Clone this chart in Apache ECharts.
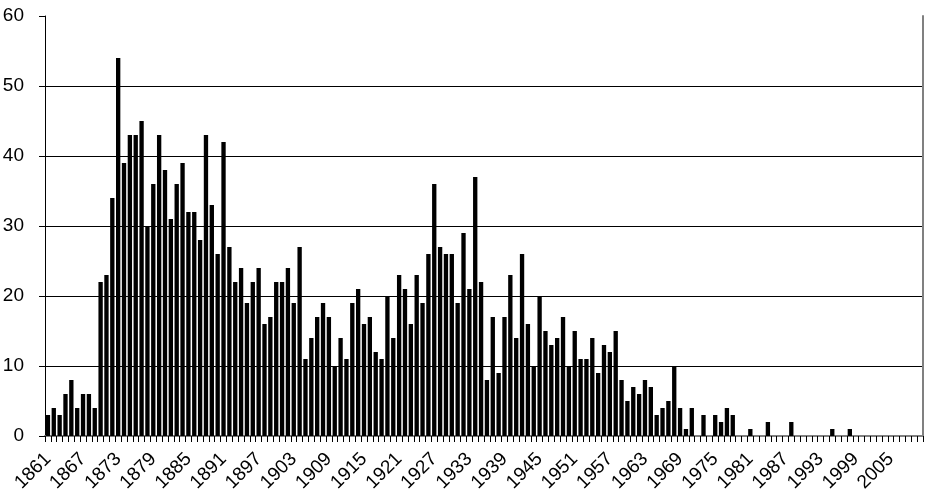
<!DOCTYPE html>
<html><head><meta charset="utf-8">
<script src="https://cdn.jsdelivr.net/npm/echarts@6/dist/echarts.min.js"></script>
<style>html,body{margin:0;padding:0;background:#fff}#c{width:934px;height:502px}</style>
</head><body><div id="c"></div>
<script>
const years = [
'1861','1862','1863','1864','1865','1866','1867','1868','1869','1870',
'1871','1872','1873','1874','1875','1876','1877','1878','1879','1880',
'1881','1882','1883','1884','1885','1886','1887','1888','1889','1890',
'1891','1892','1893','1894','1895','1896','1897','1898','1899','1900',
'1901','1902','1903','1904','1905','1906','1907','1908','1909','1910',
'1911','1912','1913','1914','1915','1916','1917','1918','1919','1920',
'1921','1922','1923','1924','1925','1926','1927','1928','1929','1930',
'1931','1932','1933','1934','1935','1936','1937','1938','1939','1940',
'1941','1942','1943','1944','1945','1946','1947','1948','1949','1950',
'1951','1952','1953','1954','1955','1956','1957','1958','1959','1960',
'1961','1962','1963','1964','1965','1966','1967','1968','1969','1970',
'1971','1972','1973','1974','1975','1976','1977','1978','1979','1980',
'1981','1982','1983','1984','1985','1986','1987','1988','1989','1990',
'1991','1992','1993','1994','1995','1996','1997','1998','1999','2000',
'2001','2002','2003','2004','2005','2006','2007','2008','2009','2010'
];
const counts = [
3,4,3,6,8,4,6,6,4,22,
23,34,54,39,43,43,45,30,36,43,
38,31,36,39,32,32,28,43,33,26,
42,27,22,24,19,22,24,16,17,22,
22,24,19,27,11,14,17,19,17,10,
14,11,19,21,16,17,12,11,20,14,
23,21,16,23,19,26,36,27,26,26,
19,29,21,37,22,8,17,9,17,23,
14,26,16,10,20,15,13,14,17,10,
15,11,11,14,9,13,12,15,8,5,
7,6,8,7,3,4,5,10,4,1,
4,0,3,0,3,2,4,3,0,0,
1,0,0,2,0,0,0,2,0,0,
0,0,0,0,1,0,0,1,0,0,
0,0,0,0,0,0,0,0,0,0
];
const xTickLabels = ['1861','1867','1873','1879','1885','1891','1897','1903','1909','1915','1921','1927','1933','1939','1945','1951','1957','1963','1969','1975','1981','1987','1993','1999','2005'];
const yTicks = [0,10,20,30,40,50,60];

const chart = echarts.init(document.getElementById('c'), null, {renderer:'canvas'});
const font = 'Arial';
chart.setOption({
  animation: false,
  backgroundColor: '#fff',
  grid: {left: 45, right: 11, top: 16, bottom: 66, containLabel: false, outerBoundsMode: 'none'},
  xAxis: [{
    type: 'category', data: years, boundaryGap: true,
    axisLine: {show: true, lineStyle: {color: '#000', width: 1}},
    axisTick: {show: true, interval: 0, length: 6, lineStyle: {color: '#000'}},
    axisLabel: {
      interval: (i, v) => xTickLabels.indexOf(v) >= 0,
      rotate: 45, fontSize: 19, fontFamily: font, color: '#000',
      margin: 20
    },
    splitLine: {show: false}
  }, {
    type: 'category', data: years, position: 'top',
    axisLine: {show: true, lineStyle: {color: '#808080', width: 2}},
    axisTick: {show: false}, axisLabel: {show: false}, splitLine: {show: false}
  }],
  yAxis: [{
    type: 'value', min: yTicks[0], max: yTicks[yTicks.length-1], interval: 10,
    axisLine: {show: true, lineStyle: {color: '#000', width: 1}},
    axisTick: {show: true, length: 6, lineStyle: {color: '#000'}},
    axisLabel: {fontSize: 19, fontFamily: font, color: '#000', margin: 21},
    splitLine: {show: true, showMaxLine: false, lineStyle: {color: '#000', width: 1}}
  }, {
    type: 'value', position: 'right', min: 0, max: 60, interval: 10,
    axisLine: {show: true, lineStyle: {color: '#808080', width: 2}},
    axisTick: {show: false}, axisLabel: {show: false}, splitLine: {show: false}
  }],
  series: [{
    type: 'bar', data: counts, xAxisIndex: 0, yAxisIndex: 0,
    barCategoryGap: '26%',
    itemStyle: {color: '#000'}
  }]
});
</script>
</body></html>
